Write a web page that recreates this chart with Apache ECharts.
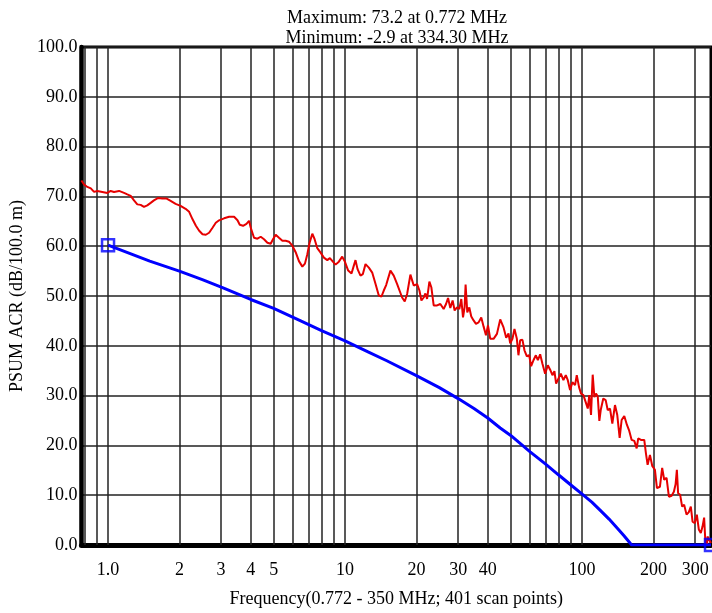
<!DOCTYPE html>
<html><head><meta charset="utf-8">
<script src="https://cdn.jsdelivr.net/npm/echarts@6/dist/echarts.min.js"></script>
<style>html,body{margin:0;padding:0;background:#fff}#c{width:712px;height:613px}</style>
</head><body><div id="c"></div>
<script>
// Measured PSUM ACR trace (MHz, dB/100 m)
const redFreq = [0.772,0.7925,0.818,0.846,0.873,0.901,0.946,0.993,1.026,1.060,1.113,1.168,1.206,1.246,1.287,1.329,1.373,1.418,1.464,1.513,1.562,1.629,1.693,1.760,1.837,1.928,2.023,2.124,
2.199,2.273,2.348,2.424,2.504,2.586,2.670,2.760,2.849,2.942,3.088,3.242,3.403,3.517,3.596,3.713,3.837,3.935,4.001,4.130,4.269,4.408,4.551,4.704,4.857,4.966,5.098,5.264,5.440,5.617,5.800,5.994,6.189,6.390,6.604,6.773,6.932,7.088,7.276,7.440,7.637,7.886,8.142,8.415,8.630,8.885,9.120,9.417,9.729,9.981,
10.31,10.65,10.89,11.07,11.29,11.62,11.89,12.20,12.60,13.02,13.45,13.88,14.25,14.57,14.91,15.20,15.54,16.05,16.59,17.13,17.41,17.86,18.28,18.87,19.49,20.14,20.60,21.00,21.47,21.83,22.19,22.69,23.14,23.66,24.45,25.24,26.06,26.68,27.20,27.81,28.44,29.00,29.68,30.35,30.94,31.46,31.94,32.26,32.79,33.44,34.09,34.86,35.68,36.60,37.56,38.41,39.32,40.09,40.99,42.33,43.74,45.16,46.63,47.86,48.94,49.76,50.86,51.86,53.08,53.91,54.81,56.05,57.15,58.50,59.82,60.99,62.37,63.84,65.09,66.56,68.06,69.87,71.72,73.34,74.99,76.46,77.73,79.48,81.35,83.43,85.39,87.06,89.02,91.03,93.44,94.99,97.13,99.03,
101.3,103.6,105.7,107.3,109.1,110.9,112.7,114.5,116.5,118.3,119.9,122.9,125.8,128.3,131.2,134.2,137.7,140.8,144.1,146.9,150.7,154.7,158.2,161.9,166.1,170.0,172.6,177.2,183.0,186.0,189.1,193.4,197.7,203.0,207.0,213.1,217.8,222.1,227.3,232.5,238.7,244.0,248.1,251.2,254.3,259.3,264.4,269.6,276.0,282.2,287.7,292.6,299.2,305.0,311.0,317.0,322.3,327.4,334.3,338.3,350];
const redVal = [73.2,72.4,71.9,71.6,70.9,71.1,70.9,70.7,71.1,70.9,71.1,70.7,70.4,70.1,69.2,68.4,68.3,67.9,68.2,68.7,69.2,69.7,69.6,69.6,69.1,68.5,68.1,67.5,
66.9,65.4,64.1,63.1,62.4,62.3,62.7,63.7,64.7,65.2,65.6,65.9,65.9,65.2,64.3,64.1,64.5,65.1,63.7,61.7,61.5,61.9,61.4,60.7,60.5,61.4,62.3,61.7,61.1,61.1,60.9,60.1,58.8,57.0,55.9,56.5,58.4,60.7,62.5,61.4,59.6,58.7,57.7,57.2,57.6,56.9,56.3,56.9,57.9,56.9,
55.1,54.5,56.1,57.2,55.4,54.1,54.4,56.4,55.7,54.7,52.4,50.1,49.9,51.1,52.2,52.1,55.1,54.1,52.4,50.6,49.7,48.9,50.4,54.3,52.1,52.4,51.1,49.1,49.7,50.5,49.4,52.9,51.7,48.1,48.1,48.4,47.4,48.4,49.6,47.6,49.1,47.1,47.7,47.4,49.4,45.7,47.7,52.3,46.7,47.7,45.9,45.1,44.4,44.7,45.7,43.9,42.1,44.1,41.4,41.4,42.4,45.3,43.7,41.6,42.5,40.5,41.4,43.4,41.4,38.1,41.1,41.2,39.1,37.9,38.1,35.9,37.1,38.1,37.1,38.3,36.4,34.4,36.1,35.2,34.1,34.9,32.4,33.4,34.4,33.1,34.1,33.1,31.1,32.7,32.1,34.1,31.7,30.4,
30.1,28.7,27.4,30.1,26.1,34.2,29.7,30.4,29.8,24.9,27.1,29.4,29.1,27.1,27.4,24.4,28.1,26.1,21.5,25.1,25.9,24.1,22.9,21.1,20.9,19.4,21.4,21.1,21.1,18.4,16.1,18.1,15.9,15.1,11.4,11.7,15.5,13.1,13.5,9.7,9.9,10.7,12.2,15.1,10.4,10.1,7.7,8.1,6.1,6.6,7.7,4.7,4.4,6.1,3.1,2.4,3.7,5.5,-2.9,1.7,0.4];

// Limit line
const blueFreq = [1.0,1.5,2.0,2.5,3.04,4.0,5.0,6.5,8.0,10,12.5,15,20,25,30,35,40,45.16,50,60.4,70,79.5,90,100.7,110,119.1,130,140,150,161.9,350];
const blueVal = [60.2,57.0,55.0,53.3,51.7,49.3,47.5,45.0,43.0,41.0,38.8,37.0,34.0,31.6,29.4,27.4,25.5,23.5,22.0,18.7,16.3,14.1,12.0,10.1,8.6,7.0,5.2,3.5,1.9,0,0];

const gridFreq = [0.8,0.9,1,2,3,4,5,6,7,8,9,10,20,30,40,50,60,70,80,90,100,200,300];
const xTickValues = [1,2,3,4,5,10,20,30,40,100,200,300];
const xTickLabels = ['1.0','2','3','4','5','10','20','30','40','100','200','300'];
const titleLines = ['Maximum: 73.2 at 0.772 MHz','Minimum: -2.9 at 334.30 MHz'];
const xName = 'Frequency(0.772 - 350 MHz; 401 scan points)';
const yName = 'PSUM ACR (dB/100.0 m)';

const FONT = 'Liberation Serif';
const redData = redFreq.map((f, i) => [f, redVal[i]]);
const blueData = blueFreq.map((f, i) => [f, blueVal[i]]);
const endPoints = [blueData[0], blueData[blueData.length - 1]];

const gridLines = gridFreq.map(f => {
  const k = xTickValues.indexOf(f);
  const item = { xAxis: f };
  if (k >= 0) {
    item.label = { show: true, formatter: xTickLabels[k] };
  }
  return item;
});

const chart = echarts.init(document.getElementById('c'), null, { renderer: 'canvas' });
chart.setOption({
  animation: false,
  backgroundColor: '#fff',
  title: {
    text: titleLines.join('\n'),
    left: 392, top: 3, textAlign: 'center',
    textStyle: { fontFamily: FONT, fontSize: 18, fontWeight: 'normal', color: '#000', lineHeight: 20 }
  },
  grid: { left: 80, right: 1, top: 47, bottom: 65, show: true, borderColor: '#000', borderWidth: 3, backgroundColor: 'transparent' },
  xAxis: {
    type: 'log', logBase: 10, min: 0.772, max: 350,
    name: xName, nameLocation: 'middle', nameGap: 45,
    nameTextStyle: { fontFamily: FONT, fontSize: 18, color: '#000' },
    axisLine: { show: true, lineStyle: { color: '#000', width: 5 } },
    axisTick: { show: false },
    axisLabel: { show: false },
    splitLine: { show: false },
    minorTick: { show: false }, minorSplitLine: { show: false }
  },
  yAxis: {
    type: 'value', min: 0, max: 100, interval: 10,
    name: yName, nameLocation: 'middle', nameGap: 50, nameRotate: 90,
    nameTextStyle: { fontFamily: FONT, fontSize: 18, color: '#000' },
    axisLine: { show: true, lineStyle: { color: '#000', width: 4.5 } },
    axisTick: { show: false },
    axisLabel: { fontFamily: FONT, fontSize: 18, color: '#000', margin: 4, formatter: v => v.toFixed(1) },
    splitLine: { show: true, lineStyle: { color: '#222', width: 1.5 } }
  },
  series: [
    {
      name: 'grid', type: 'line', data: [], silent: true, z: 1,
      markLine: {
        silent: true, symbol: ['none', 'none'], animation: false, z: 1,
        lineStyle: { color: '#222', width: 1.5, type: 'solid' },
        label: { show: false, position: 'start', distance: 16, fontFamily: FONT, fontSize: 18, color: '#000' },
        emphasis: { disabled: true },
        data: gridLines
      }
    },
    {
      name: 'ACR', type: 'line', data: redData, symbol: 'none', z: 3,
      lineStyle: { color: '#e60000', width: 2 }
    },
    {
      name: 'Limit', type: 'line', data: blueData, symbol: 'none', z: 4,
      lineStyle: { color: '#0000ff', width: 3 }
    },
    {
      name: 'LimitEnds', type: 'scatter', data: endPoints, symbol: 'rect', symbolSize: 12, clip: false, z: 5,
      itemStyle: { color: 'rgba(0,0,0,0)', borderColor: '#0000ff', borderWidth: 2.5 }
    }
  ]
});
</script>
</body></html>
